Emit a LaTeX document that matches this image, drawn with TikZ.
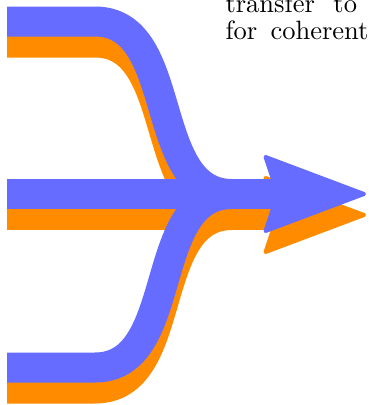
\documentclass[tikz,border=0pt]{standalone}
\usetikzlibrary{arrows.meta}
\definecolor{flowblue}{RGB}{102,108,255}
\definecolor{floworange}{RGB}{255,140,0}
\tikzset{
    flow/.style={line width=30pt},
    flowhead/.style={-{Stealth[length=107pt,width=80pt,inset=13pt,round,line width=4pt 0]}},
    caption/.style={anchor=base west,inner sep=0pt,scale=2.65,transform shape},
}
\begin{document}
\begin{tikzpicture}[x=1pt,y=-1pt]
    \useasboundingbox (0,0) rectangle (368,405);
    % where the three streams start and meet
    \coordinate (top in) at (7,21.5);
    \coordinate (top bend) at (95,21.5);
    \coordinate (mid in) at (7,194);
    \coordinate (bot in) at (7,367.5);
    \coordinate (bot bend) at (95,367.5);
    \coordinate (merge) at (232,194);
    \coordinate (tip) at (366,194);
    % orange copy first, blue on top
    \foreach \col/\dy in {floworange/-21pt, flowblue/0pt}{
        \begin{scope}[transform canvas={yshift=\dy}]
            \draw[flow,\col] (top in) -- (top bend) to[out=0,in=180] (merge);
            \draw[flow,\col] (bot in) -- (bot bend) to[out=0,in=180] (merge);
            \draw[flow,flowhead,\col] (mid in) -- (tip);
        \end{scope}
    }
    \node[caption] (line one) at (225,12.5) {transfer\hskip 7pt to};
    \node[caption] (line two) at (225,39) {for\hskip 5pt coherent};
\end{tikzpicture}
\end{document}
